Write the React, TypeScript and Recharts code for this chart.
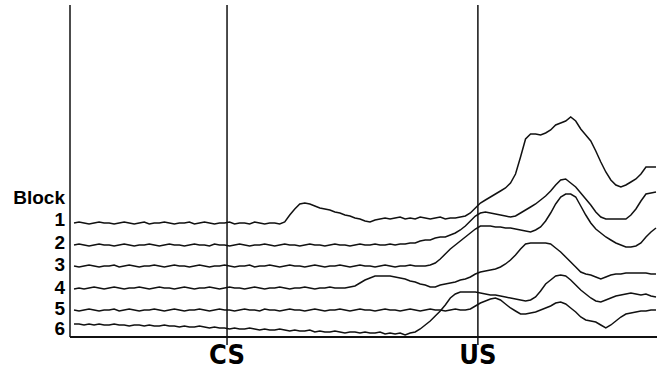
import { LineChart, Line, XAxis, YAxis, ReferenceLine } from 'recharts'

// sampling grid: first sample time and step, in ms relative to CS onset
const START_MS = -305
const STEP_MS = 10

// cue onsets (ms) and their labels
const CUE_TIMES = [0, 500]
const CUE_LABELS = ['CS', 'US']

// row labels at the left and the level each one sits at
const ROW_LABELS = ['Block', '1', '2', '3', '4', '5', '6']
const ROW_LEVELS = [140, 117.5, 95, 73, 49.5, 29, 9]

// traces, one value per sample (arbitrary units, already offset per block)
const BLOCK_1 = [
  114, 115, 114, 113, 114, 115, 114, 114, 113, 114,
  115, 114, 113, 114, 115, 113, 114, 114, 115, 114,
  113, 114, 114, 115, 113, 114, 115, 114, 113, 114,
  114, 115, 113, 114, 114, 113, 115, 114, 113, 114,
  114, 113,
  115, 122, 128, 133, 134, 133, 131, 129, 128, 127,
  125, 124, 122, 121, 119, 118, 116, 115, 117, 118,
  119, 118, 119, 120, 118, 119, 118, 120, 119, 118, 119, 120, 118, 119, 119, 120,
  121, 124, 129, 134, 137, 140, 143, 146, 149, 154,
  163, 180, 198, 203, 203, 202, 204, 207, 212, 214,
  216, 220, 216, 208, 202, 196, 186, 175, 165, 157,
  152, 150, 152, 155, 158, 163, 170, 170, 170,
]

const BLOCK_2 = [
  92, 93, 92, 91, 92, 93, 92, 92, 91, 92,
  93, 92, 91, 92, 92, 93, 92, 91, 92, 93,
  92, 92, 91, 92, 93, 92, 92, 91, 93, 92,
  92, 91, 92, 93, 92, 91, 92, 92, 93, 92,
  91, 92, 93, 92, 92, 91, 92, 93, 92, 92,
  91, 92, 93, 92, 92, 91, 92, 93, 92, 92,
  93, 92, 92, 93, 92, 93,
  93, 94, 94, 96, 97, 97, 99, 100, 100, 102,
  104, 107, 111, 116, 121, 124, 125, 124, 123, 122,
  121, 120, 121, 124, 127, 130, 133, 137, 141, 146,
  152, 157, 158, 154, 150, 144, 138, 132, 125, 120,
  118, 118, 118, 118, 118, 122, 128, 136, 143, 144, 145,
]

const BLOCK_3 = [
  71, 70, 71, 72, 71, 70, 71, 71, 72, 70,
  71, 72, 71, 70, 71, 71, 72, 71, 70, 71,
  72, 71, 71, 70, 71, 72, 71, 70, 71, 71,
  72, 71, 70, 71, 71, 72, 70, 71, 71, 72,
  71, 70, 71, 72, 71, 71, 70, 71, 72, 71,
  70, 71, 71, 72, 71, 70, 71, 72, 71, 71,
  70, 71, 72, 71, 70, 71, 71, 72, 71, 71, 71,
  72, 74, 78, 83, 88, 92, 96, 100, 104, 108,
  111, 111, 111, 110, 110, 109, 109, 108, 107, 106,
  105, 107, 110, 116, 124, 133, 140, 143, 143, 140,
  131, 122, 114, 108, 104, 100, 97, 94, 92, 90,
  90, 91, 94, 100, 105, 109,
]

const BLOCK_4 = [
  48, 49, 48, 49, 50, 49, 48, 49, 50, 49,
  48, 49, 49, 50, 49, 48, 49, 50, 49, 49,
  48, 49, 50, 49, 48, 49, 49, 50, 49, 48,
  49, 50, 49, 49, 48, 49, 50, 49, 48, 49,
  49, 50, 49, 48, 49, 49, 50, 49, 48, 49,
  49, 50, 49, 49,
  49, 50, 51, 54, 57, 59, 61, 61, 61, 61,
  60, 59, 58, 56, 55, 53, 52, 50, 50, 52,
  53, 54, 55, 57, 58, 60, 63, 65, 66, 67,
  68, 70, 73, 77, 82, 88, 93, 94, 94, 94,
  94, 93, 89, 85, 80, 75, 70, 65, 63, 62,
  60, 58, 60, 62, 63, 63, 64, 64, 64, 64,
  64, 63, 63,
]

const BLOCK_5 = [
  27, 26, 27, 28, 27, 26, 27, 27, 28, 26,
  27, 28, 27, 26, 27, 27, 28, 27, 26, 27,
  28, 27, 26, 27, 27, 28, 27, 26, 27, 28,
  27, 27, 26, 27, 28, 27, 27, 26, 28, 27,
  27, 26, 27, 28, 27, 27, 26, 27, 28, 27,
  26, 27, 27, 28, 27, 26, 27, 28, 27, 27,
  26, 27, 28, 27, 27, 26, 27, 28, 27, 26,
  27, 28, 27, 27, 26, 27, 28, 27, 27,
  28, 31, 34, 36, 38, 39, 37, 33, 29, 26,
  23, 23, 24, 25, 27, 29, 31, 34, 35, 33,
  29, 25, 20, 17, 16, 15, 12, 9, 12, 16,
  20, 23, 24, 25, 26, 26, 27, 27,
]

const BLOCK_6 = [
  13, 13, 12, 13, 12, 13, 12, 12, 13, 12,
  12, 11, 12, 12, 11, 12, 11, 11, 12, 11,
  11, 10, 11, 10, 10, 11, 10, 9, 10, 9,
  9, 8, 9, 8, 8, 9, 8, 7, 8, 7,
  7, 8, 7, 6, 7, 6, 6, 7, 5, 6,
  5, 5, 6, 5, 4, 5, 5, 4, 5, 4,
  4, 5, 3, 4, 3, 4, 2, 4,
  5, 8, 12, 16, 21, 26, 32, 39, 43, 45,
  45, 45, 45, 44, 43, 42, 42, 41, 40, 39,
  38, 37, 36, 37, 40, 46, 53, 57, 61, 62,
  61, 57, 52, 47, 43, 39, 36, 35, 37, 39,
  41, 42, 43, 44, 43, 42, 43, 41, 40,
]

const BLOCKS = [BLOCK_1, BLOCK_2, BLOCK_3, BLOCK_4, BLOCK_5, BLOCK_6]

const data = BLOCK_1.map((_, i) => {
  const row: Record<string, number> = { t: START_MS + i * STEP_MS }
  BLOCKS.forEach((b, k) => {
    row[`b${k + 1}`] = b[i]
  })
  return row
})

const ink = '#111'

export default function App() {
  return (
    <div style={{ position: 'absolute', left: 0, top: 0, background: '#fff' }}>
      <LineChart width={657} height={371} data={data} margin={{ top: 5, right: 0, bottom: 0, left: 0 }}>
        <XAxis
          dataKey="t"
          type="number"
          domain={[-313, 857]}
          allowDataOverflow
          ticks={CUE_TIMES}
          tickFormatter={(v: number) => CUE_LABELS[CUE_TIMES.indexOf(v)] ?? ''}
          tickLine={false}
          tickSize={0}
          tickMargin={8}
          height={34}
          axisLine={{ stroke: ink, strokeWidth: 2 }}
          tick={{
            fill: '#000',
            fontSize: 27,
            fontWeight: 'bold',
            fontFamily: '"Liberation Sans Narrow", "DejaVu Sans Condensed", sans-serif',
          }}
        />
        <YAxis
          type="number"
          domain={[0, 332]}
          allowDataOverflow
          width={70}
          ticks={ROW_LEVELS}
          interval={0}
          tickFormatter={(v: number) => ROW_LABELS[ROW_LEVELS.indexOf(v)] ?? ''}
          tickLine={false}
          tickSize={0}
          tickMargin={5}
          axisLine={{ stroke: ink, strokeWidth: 1.5 }}
          tick={{ fill: '#000', fontSize: 19, fontWeight: 'bold', fontFamily: '"Liberation Sans", Arial, sans-serif' }}
        />
        {CUE_TIMES.map((c) => (
          <ReferenceLine
            key={c}
            segment={[{ x: c, y: -8 }, { x: c, y: 332 }]}
            ifOverflow="visible"
            stroke={ink}
            strokeWidth={1.5}
          />
        ))}
        {BLOCKS.map((_, k) => (
          <Line
            key={k}
            type="linear"
            dataKey={`b${k + 1}`}
            stroke={ink}
            strokeWidth={1.5}
            dot={false}
            isAnimationActive={false}
          />
        ))}
      </LineChart>
    </div>
  )
}
